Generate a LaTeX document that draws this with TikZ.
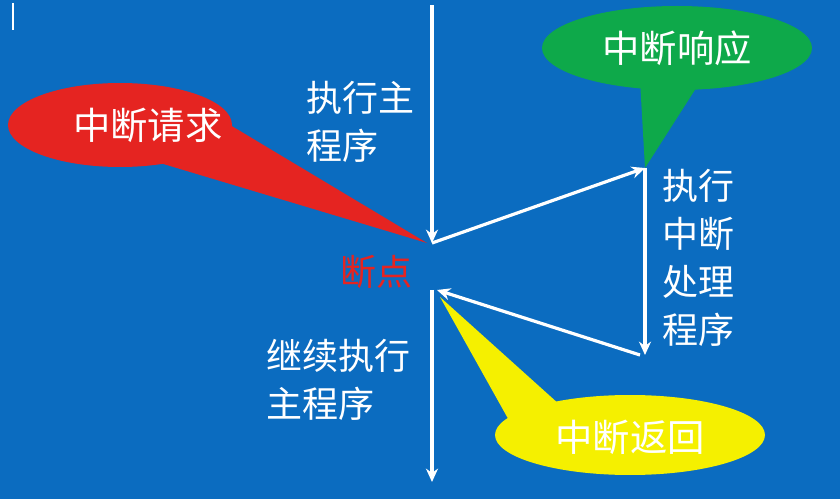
\documentclass[tikz,border=0pt]{standalone}
\usepackage{fontspec}
\setmainfont{Noto Sans CJK SC}
\usetikzlibrary{arrows.meta}
\definecolor{bg}{HTML}{0B6CC0}
\definecolor{cred}{HTML}{E52421}
\definecolor{cgreen}{HTML}{0EA94A}
\definecolor{cyel}{HTML}{F5F000}
\tikzset{
 flow/.style={white,line width=2.4pt,-{Stealth[length=10pt,width=9pt]}},
 lbl/.style={text=white,font=\fontsize{27}{36}\selectfont,align=left,inner sep=0pt},
 bub/.style={text=white,font=\fontsize{28}{36}\selectfont,inner sep=0pt}
}
\begin{document}
\begin{tikzpicture}[x=0.75pt,y=-0.75pt]
\fill[bg] (0,0) rectangle (840,499);
\useasboundingbox (0,0) rectangle (840,499);
\draw[white,line width=1.2pt] (13,3) -- (13,30);
% callouts
\fill[cred] (180,95) -- (427,243) -- (150,160) -- cycle;
\fill[cred] (120,125) ellipse [x radius=112,y radius=42];
\node[bub] (req) at (148,125) {中断请求};
\fill[cgreen] (640,80) -- (645,168) -- (700,82) -- cycle;
\fill[cgreen] (677,48) ellipse [x radius=135,y radius=42];
\node[bub] (resp) at (677,48) {中断响应};
\fill[cyel] (560,405) -- (440,297) -- (520,440) -- cycle;
\fill[cyel] (630,435) ellipse [x radius=135,y radius=40];
\node[bub] (ret) at (630,437) {中断返回};
% coordinates
\coordinate (top) at (432,5);
\coordinate (bp1) at (432,243);
\coordinate (bp2) at (432,290);
\coordinate (bot) at (432,482);
\coordinate (isr1) at (645,168);
\coordinate (isr2) at (645,355);
\coordinate (isr3) at (640,355);
\coordinate (bp3) at (437,290);
\draw[flow] (top) -- (bp1);
\draw[flow] (bp2) -- (bot);
\draw[flow] (bp1) -- (isr1);
\draw[flow] (isr1) -- (isr2);
\draw[flow] (isr3) -- (bp3);
\node[lbl,anchor=west] (main) at (306,122) {执行主\\程序};
\node[lbl,anchor=west,text=cred] (bp) at (340,272) {断点};
\node[lbl,anchor=west] (isr) at (662,258) {执行\\中断\\处理\\程序};
\node[lbl,anchor=west] (cont) at (266,380) {继续执行\\主程序};
\end{tikzpicture}
\end{document}
